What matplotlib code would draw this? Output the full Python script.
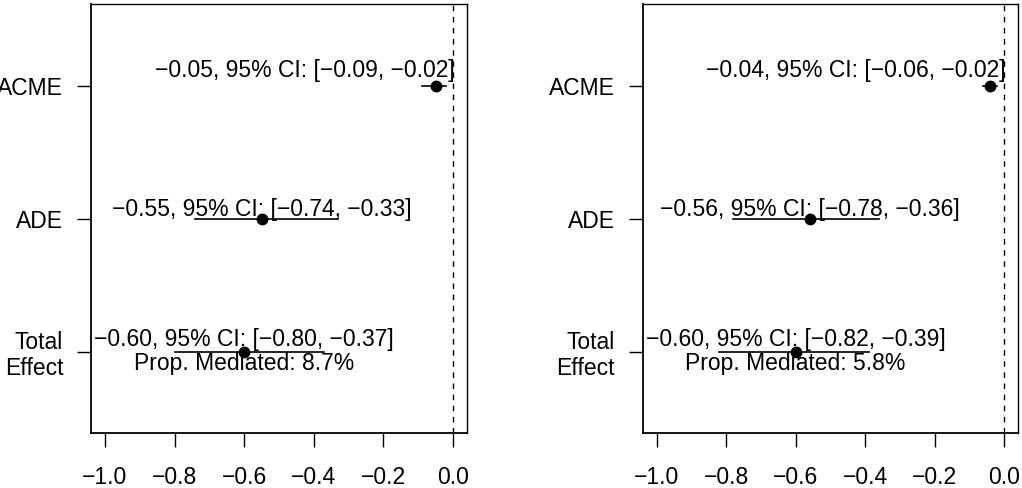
import matplotlib
matplotlib.use('Agg')
import matplotlib.pyplot as plt

plt.rcParams['font.family'] = ['Liberation Sans', 'DejaVu Sans']

# effects, bottom to top on the y axis
effects = ['Total\nEffect', 'ADE', 'ACME']
ypos = [1, 2, 3]

# left model
est_a = [-0.60, -0.55, -0.05]
lo_a = [-0.80, -0.74, -0.09]
hi_a = [-0.37, -0.33, -0.02]
prop_a = '8.7%'

# right model
est_b = [-0.60, -0.56, -0.04]
lo_b = [-0.82, -0.78, -0.06]
hi_b = [-0.39, -0.36, -0.02]
prop_b = '5.8%'

xticks = [-1.0, -0.8, -0.6, -0.4, -0.2, 0.0]

FS = 16.5
# baseline offset of each estimate label above its point (points)
label_dy = [4.5, 2.0, 6.5]


def fmt(v):
    return f'{v:.2f}'.replace('-', '\u2212')


def panel(ax, est, lo, hi, prop):
    ax.set_xlim(-1.04, 0.04)
    ax.set_ylim(0.39, 3.62)
    ax.axvline(0, color='black', ls=(0, (4, 4)), lw=1)
    for y, e, l, h, dy in zip(ypos, est, lo, hi, label_dy):
        ax.plot([l, h], [y, y], color='black', lw=1.2)
        ax.plot(e, y, 'o', color='black', ms=7.5)
        label = f'{fmt(e)}, 95% CI: [{fmt(l)}, {fmt(h)}]'
        t = ax.annotate(label, (e, y), xytext=(0, dy), textcoords='offset points',
                        ha='center', va='baseline', fontsize=FS)
        # keep the label inside the panel (right edge near x = 0)
        fig.canvas.draw()
        bb = t.get_window_extent().transformed(ax.transData.inverted())
        if bb.x1 > 0.006:
            t.remove()
            ax.annotate(label, (0.006, y), xytext=(0, dy), textcoords='offset points',
                        ha='right', va='baseline', fontsize=FS)
    ax.annotate(f'Prop. Mediated: {prop}', (est[0], ypos[0]), xytext=(0, -13),
                textcoords='offset points', ha='center', va='baseline', fontsize=FS)
    ax.set_yticks(ypos)
    ax.set_yticklabels(effects, fontsize=FS, linespacing=1.15)
    ax.set_xticks(xticks)
    ax.set_xticklabels([f'{v:.1f}'.replace('-', '\u2212') for v in xticks], fontsize=FS)
    ax.tick_params(axis='both', length=10, width=1)
    ax.tick_params(axis='x', pad=14)
    ax.tick_params(axis='y', pad=10)
    for s in ['left', 'bottom']:
        ax.spines[s].set_linewidth(1.3)
    for s in ['top', 'right']:
        ax.spines[s].set_linewidth(1.0)


fig = plt.figure(figsize=(10.22, 4.88), dpi=100)
ax1 = fig.add_axes([0.089, 0.113, 0.368, 0.879])
ax2 = fig.add_axes([0.629, 0.113, 0.367, 0.879])
panel(ax1, est_a, lo_a, hi_a, prop_a)
panel(ax2, est_b, lo_b, hi_b, prop_b)

fig.savefig('out.png', dpi=100)
